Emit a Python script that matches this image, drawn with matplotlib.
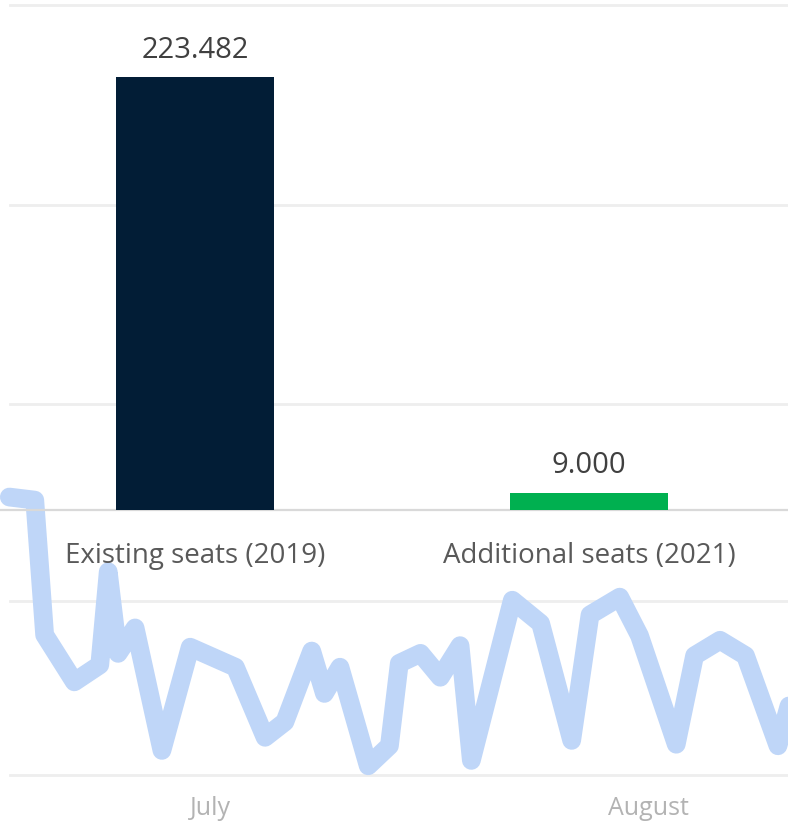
import matplotlib.pyplot as plt

# foreground bar chart
categories = ["Existing seats (2019)", "Additional seats (2021)"]
seats = [223.482, 9.000]
value_labels = ["223.482", "9.000"]
bar_colors = ["#021d36", "#00b050"]

# background trend line (days relative to July 1, index values)
trend_days = [-14.2, -12.4, -11.7, -9.6, -7.8, -7.2, -6.5, -5.3, -3.4, -1.4,
              1.8, 3.9, 5.3, 7.2, 8.1, 9.2, 11.2, 12.7, 13.4, 14.9,
              16.3, 17.7, 18.5, 21.4, 23.4, 25.6, 26.9, 29.0, 30.4, 33.0,
              34.3, 36.1, 37.9, 40.2, 41.0]
trend_vals = [36.1, 35.7, 18.2, 12.1, 14.3, 26.4, 15.8, 19.1, 3.2, 16.6,
              14.0, 4.9, 6.9, 16.1, 10.6, 14.0, 1.2, 3.8, 14.5, 15.8,
              12.7, 16.8, 1.9, 22.7, 19.7, 4.5, 20.8, 23.1, 18.1, 4.0,
              15.5, 17.5, 15.5, 3.8, 9.1]
grid_vals = [0, 22.6, 48.2, 74.0, 100]
month_days = [0, 31]
month_labels = ["July", "August"]

plt.rcParams['font.family'] = ['Open Sans', 'DejaVu Sans']

fig = plt.figure(figsize=(7.88, 8.25), dpi=100)

# background chart
ax_bg = fig.add_axes([0, 0, 1, 1])
ax_bg.set_xlim(-14.86, 40.91)
ax_bg.set_ylim(-6.49, 100.65)
ax_bg.axis('off')
for g in grid_vals:
    ax_bg.plot([-14.15, 40.91], [g, g], color="#eeeeee", lw=2, zorder=1)
ax_bg.plot(trend_days, trend_vals, color="#bfd6f8", lw=13.5,
           solid_joinstyle='round', solid_capstyle='round', zorder=2)
for d, m in zip(month_days, month_labels):
    ax_bg.annotate(m, (d, 0), xytext=(0, -29), textcoords='offset points',
                   ha='center', va='baseline', fontsize=18, color="#b3b3b3")

# bar chart on top
ax = fig.add_axes([0, (825 - 510) / 825, 1, 510 / 825])
ax.patch.set_alpha(0)
x = range(len(categories))
ax.bar(x, seats, width=0.401, color=bar_colors, zorder=3)
ax.set_xlim(-0.495, 1.505)
ax.set_ylim(0, 263.2)
for s in ['top', 'right', 'left']:
    ax.spines[s].set_visible(False)
ax.spines['bottom'].set_color("#d9d9d9")
ax.spines['bottom'].set_linewidth(1.6)
ax.set_xticks([])
ax.set_yticks([])
for i, v in enumerate(seats):
    ax.annotate(value_labels[i], (i, v), xytext=(0, 14), textcoords='offset points',
                ha='center', va='baseline', fontsize=21, color="#404040")
    ax.annotate(categories[i], (i, 0), xytext=(0, -38), textcoords='offset points',
                ha='center', va='baseline', fontsize=20, color="#595959",
                annotation_clip=False)

fig.savefig("out.png", dpi=100)
